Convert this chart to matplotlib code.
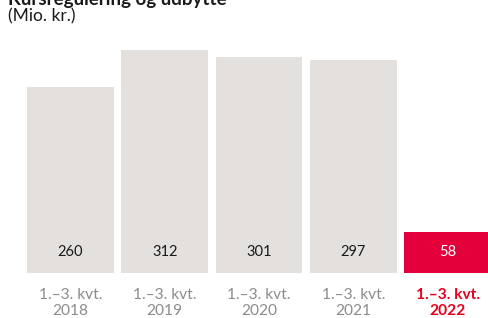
import matplotlib.pyplot as plt

# Data
categories = ["1.–3. kvt.\n2018", "1.–3. kvt.\n2019", "1.–3. kvt.\n2020",
              "1.–3. kvt.\n2021", "1.–3. kvt.\n2022"]
values = [260, 312, 301, 297, 58]
highlight = [False, False, False, False, True]

grey = "#e3e0dd"
red = "#e4003b"
plt.rcParams['font.family'] = ['Lato', 'DejaVu Sans']

fig = plt.figure(figsize=(4.89, 3.18), dpi=100)
ax = fig.add_axes([0, 0, 1, 1])

x = list(range(len(values)))
colors = [red if h else grey for h in highlight]
ax.bar(x, values, width=0.92, color=colors)

# Value labels inside bars
for i, v in enumerate(values):
    ax.text(i, 29, str(v), ha='center', va='center', fontsize=10.5,
            color='white' if highlight[i] else '#1a1a1a')

# Category labels under bars
for i, c in enumerate(categories):
    ax.text(i, -42, c, ha='center', va='center', fontsize=11.2,
            linespacing=1.2,
            color='#e8001c' if highlight[i] else '#8c8c8c',
            fontweight='bold' if highlight[i] else 'normal')

ax.set_xlim(-0.748, 4.44)
ax.set_ylim(-62.8, 381.3)
ax.axis('off')

fig.text(0.016, 0.985, "Kursregulering og udbytte", fontsize=13.5, fontweight='bold',
         va='baseline', ha='left', color='#1a1a1a')
fig.text(0.016, 0.932, "(Mio. kr.)", fontsize=12.5, va='baseline', ha='left',
         color='#1a1a1a')

fig.savefig("out.png", dpi=100)
